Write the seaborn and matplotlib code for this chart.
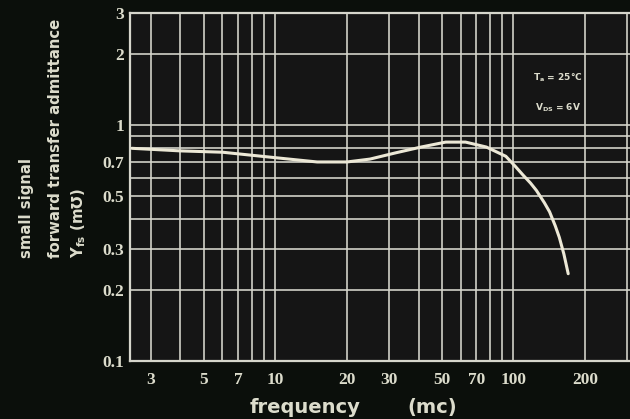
import matplotlib
matplotlib.use("Agg")
import matplotlib.pyplot as plt
import matplotlib.ticker as mticker
import seaborn as sns
import pandas as pd

# curve (frequency in mc, Yfs in mmho)
freq = [2.5, 4, 6, 10, 15, 20, 25, 32, 41, 52, 63, 77, 93, 102, 110, 118, 125,
        135, 142, 150, 156, 163, 170]
yfs = [0.80, 0.78, 0.77, 0.73, 0.70, 0.70, 0.72, 0.765, 0.81, 0.85, 0.85, 0.81,
       0.74, 0.67, 0.615, 0.57, 0.53, 0.47, 0.43, 0.375, 0.335, 0.285, 0.235]

x_ticks = [3, 5, 7, 10, 20, 30, 50, 70, 100, 200]
y_ticks = [0.1, 0.2, 0.3, 0.5, 0.7, 1, 2, 3]
x_tick_labels = ["3", "5", "7", "10", "20", "30", "50", "70", "100", "200"]
y_tick_labels = ["0.1", "0.2", "0.3", "0.5", "0.7", "1", "2", "3"]

bg = "#0b0f0b"
inner = "#151515"
grid_col = "#d6d6cc"
text_col = "#dcdccc"

sns.set_theme(style="dark", rc={"axes.facecolor": inner, "figure.facecolor": bg})

fig = plt.figure(figsize=(6.30, 4.19), dpi=100)
ax = fig.add_axes([0.206, 0.138, 0.794, 0.831])

df = pd.DataFrame({"freq": freq, "yfs": yfs})
sns.lineplot(data=df, x="freq", y="yfs", ax=ax, color="#ece8d6", linewidth=2.2, zorder=5)

ax.set_xscale("log")
ax.set_yscale("log")
ax.set_xlim(2.45, 309)
ax.set_ylim(0.1, 3)

ax.xaxis.set_major_locator(mticker.FixedLocator(x_ticks))
ax.xaxis.set_major_formatter(mticker.FixedFormatter(x_tick_labels))
ax.yaxis.set_major_locator(mticker.FixedLocator(y_ticks))
ax.yaxis.set_major_formatter(mticker.FixedFormatter(y_tick_labels))
ax.xaxis.set_minor_locator(mticker.LogLocator(base=10, subs=range(1, 10)))
ax.yaxis.set_minor_locator(mticker.LogLocator(base=10, subs=range(1, 10)))
ax.xaxis.set_minor_formatter(mticker.NullFormatter())
ax.yaxis.set_minor_formatter(mticker.NullFormatter())

ax.grid(True, which="both", color=grid_col, linewidth=1.3, alpha=0.9)
ax.tick_params(which="both", length=0)
ax.tick_params(axis="x", pad=8)
ax.tick_params(axis="y", pad=4)

for lab in ax.get_xticklabels() + ax.get_yticklabels():
    lab.set_fontfamily("Liberation Serif")
    lab.set_fontweight("bold")
    lab.set_fontsize(12.5)
    lab.set_color(text_col)

for side in ["left", "bottom", "top"]:
    ax.spines[side].set_visible(True)
    ax.spines[side].set_color(grid_col)
    ax.spines[side].set_linewidth(1.6)
ax.spines["right"].set_visible(False)

ax.set_xlabel("")
ax.set_ylabel("")

# conditions box text
fig.text(558 / 630, 1 - 78 / 419, "T$_\\mathbf{a}$ = 25°C", fontsize=6.5, fontweight="bold",
         color=text_col, ha="center", va="center")
fig.text(558 / 630, 1 - 108 / 419, "V$_\\mathbf{DS}$ = 6V", fontsize=6.5, fontweight="bold",
         color=text_col, ha="center", va="center")

# axis titles
ylab_y = 1 - 258 / 419
ylab_kw = dict(rotation=90, rotation_mode="anchor", ha="left", va="center",
               fontsize=10.7, fontweight="heavy", color=text_col)
fig.text(27 / 630, ylab_y, "small signal", **ylab_kw)
fig.text(55 / 630, ylab_y, "forward transfer admittance", **ylab_kw)
fig.text(79 / 630, ylab_y, "Y$_{\\mathbf{fs}}$ (m℧)", **ylab_kw)

fig.text(305 / 630, 1 - 407 / 419, "frequency", ha="center", va="center",
         fontsize=14, fontweight="bold", color=text_col)
fig.text(432 / 630, 1 - 407 / 419, "(mc)", ha="center", va="center",
         fontsize=14, fontweight="bold", color=text_col)

fig.savefig("out.png", dpi=100, facecolor=bg)
